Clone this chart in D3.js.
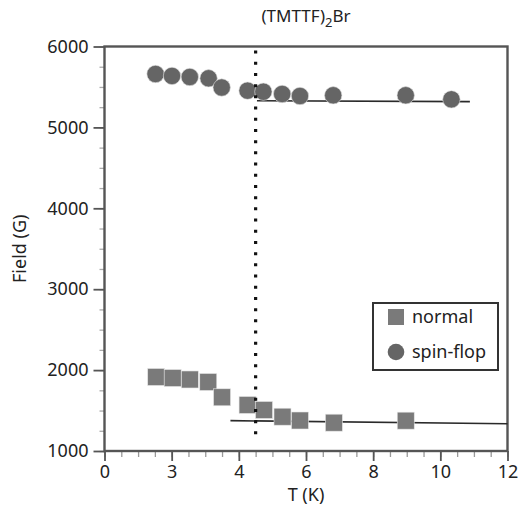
<!DOCTYPE html>
<html>
<head>
<meta charset="utf-8">
<script src="https://cdn.jsdelivr.net/npm/d3@7"></script>
<style>
  body { margin: 0; background: #fff; }
  svg { font-family: "Noto Sans", sans-serif; }
</style>
</head>
<body>
<div id="chart"></div>
<script>
// chart data
const normalT = [1.54, 2.03, 2.54, 3.09, 3.50, 4.26, 4.75, 5.30, 5.82, 6.83, 8.97];
const normalField = [1915, 1902, 1884, 1853, 1664, 1569, 1507, 1424, 1377, 1350, 1375];
const flopT = [1.52, 2.01, 2.54, 3.10, 3.49, 4.26, 4.73, 5.29, 5.82, 6.81, 8.97, 10.33];
const flopField = [5660, 5636, 5623, 5607, 5493, 5454, 5441, 5413, 5388, 5397, 5397, 5347];
const fitNormal = [[3.75, 1375], [12, 1337]];
const fitFlop = [[4.54, 5330], [10.88, 5318]];
const transitionT = 4.5;
const xTicks = [0, 2, 4, 6, 8, 10, 12];
const xTickLabels = ["0", "3", "4", "6", "8", "10", "12"];
const yTicks = [1000, 2000, 3000, 4000, 5000, 6000];
const legendLabels = ["normal", "spin-flop"];

// frame
const FRAME_WIDTH = 527;
const FRAME_HEIGHT = 508;
const MARGINS = {left: 104.5, right: 19.5, top: 46.5, bottom: 57};

const svg = d3.select("#chart")
  .append("svg")
    .attr("width", FRAME_WIDTH)
    .attr("height", FRAME_HEIGHT);

const X = d3.scaleLinear()
  .domain([0, 12])
  .range([MARGINS.left, FRAME_WIDTH - MARGINS.right]);

const Y = d3.scaleLinear()
  .domain([1000, 6000])
  .range([FRAME_HEIGHT - MARGINS.bottom, MARGINS.top]);

const AXIS_COLOR = "#555";

// minor ticks first so the major ones sit on top
svg.append("g")
  .attr("transform", `translate(0,${Y(1000)})`)
  .call(d3.axisBottom(X).tickValues(d3.range(0, 12.01, 0.5)).tickSize(6).tickFormat(""))
  .call(g => g.select(".domain").remove())
  .call(g => g.selectAll("line").attr("stroke", "#999").attr("stroke-width", 1.3));

svg.append("g")
  .attr("transform", `translate(${X(0)},0)`)
  .call(d3.axisLeft(Y).tickValues(d3.range(1000, 6001, 250)).tickSize(5).tickFormat(""))
  .call(g => g.select(".domain").remove())
  .call(g => g.selectAll("line").attr("stroke", "#aaa").attr("stroke-width", 1.3));

// major x axis
svg.append("g")
  .attr("transform", `translate(0,${Y(1000)})`)
  .call(d3.axisBottom(X).tickValues(xTicks).tickSize(10).tickPadding(4)
    .tickFormat((d, i) => xTickLabels[i]))
  .call(g => g.select(".domain").remove())
  .call(g => g.selectAll("line").attr("stroke", AXIS_COLOR).attr("stroke-width", 1.8))
  .call(g => g.selectAll("text").attr("font-size", 18).attr("fill", "#222")
    .attr("font-family", "Noto Sans"));

// major y axis
svg.append("g")
  .attr("transform", `translate(${X(0)},0)`)
  .call(d3.axisLeft(Y).tickValues(yTicks).tickSize(11).tickPadding(5).tickFormat(d3.format("d")))
  .call(g => g.select(".domain").remove())
  .call(g => g.selectAll("line").attr("stroke", AXIS_COLOR).attr("stroke-width", 1.8))
  .call(g => g.selectAll("text").attr("font-size", 18).attr("fill", "#222")
    .attr("font-family", "Noto Sans"));

// plot box
svg.append("rect")
  .attr("x", X(0))
  .attr("y", Y(6000))
  .attr("width", X(12) - X(0))
  .attr("height", Y(1000) - Y(6000))
  .attr("fill", "none")
  .attr("stroke", AXIS_COLOR)
  .attr("stroke-width", 2.4);

// fit lines
const line = d3.line().x(d => X(d[0])).y(d => Y(d[1]));
[fitNormal, fitFlop].forEach(f => {
  svg.append("path")
    .attr("d", line(f))
    .attr("fill", "none")
    .attr("stroke", "#2a2a2a")
    .attr("stroke-width", 1.6);
});

// points
const SQ = 17;
svg.selectAll(".sq")
  .data(normalT)
  .enter()
  .append("rect")
    .attr("class", "sq")
    .attr("x", (d) => X(d) - SQ / 2)
    .attr("y", (d, i) => Y(normalField[i]) - SQ / 2)
    .attr("width", SQ)
    .attr("height", SQ)
    .attr("fill", "#7a7a7a")
    .attr("stroke", "#e6e6e6")
    .attr("stroke-width", 0.6);

svg.selectAll(".dot")
  .data(flopT)
  .enter()
  .append("circle")
    .attr("class", "dot")
    .attr("cx", (d) => X(d))
    .attr("cy", (d, i) => Y(flopField[i]))
    .attr("r", 8.7)
    .attr("fill", "#656565")
    .attr("stroke", "#e0e0e0")
    .attr("stroke-width", 0.6);

// dotted transition line
svg.append("line")
  .attr("x1", X(transitionT))
  .attr("x2", X(transitionT))
  .attr("y1", Y(5950))
  .attr("y2", Y(1170))
  .attr("stroke", "#111")
  .attr("stroke-width", 3.2)
  .attr("stroke-dasharray", "3,8.2");

// legend
const legend = svg.append("g");
legend.append("rect")
  .attr("x", 373)
  .attr("y", 303)
  .attr("width", 125)
  .attr("height", 67)
  .attr("fill", "#fff")
  .attr("stroke", "#333")
  .attr("stroke-width", 2);
legend.append("rect")
  .attr("x", 388).attr("y", 309)
  .attr("width", 16).attr("height", 16)
  .attr("fill", "#7a7a7a");
legend.append("circle")
  .attr("cx", 396).attr("cy", 352)
  .attr("r", 8.3)
  .attr("fill", "#656565");
legend.selectAll(".lt")
  .data(legendLabels)
  .enter()
  .append("text")
    .attr("class", "lt")
    .attr("x", 412)
    .attr("y", (d, i) => 323 + i * 35)
    .attr("font-size", 18)
    .attr("fill", "#222")
    .text(d => d);

// titles
const title = svg.append("text")
  .attr("x", (X(0) + X(12)) / 2)
  .attr("y", 22)
  .attr("text-anchor", "middle")
  .attr("font-size", 17)
  .attr("fill", "#222");
title.append("tspan").text("(TMTTF)");
title.append("tspan").attr("dy", 5).attr("font-size", 13).text("2");
title.append("tspan").attr("dy", -5).text("Br");

svg.append("text")
  .attr("x", (X(0) + X(12)) / 2)
  .attr("y", 501)
  .attr("text-anchor", "middle")
  .attr("font-size", 18)
  .attr("fill", "#222")
  .text("T (K)");

svg.append("text")
  .attr("transform", `translate(26,${(Y(1000) + Y(6000)) / 2}) rotate(-90)`)
  .attr("text-anchor", "middle")
  .attr("font-size", 18)
  .attr("fill", "#222")
  .text("Field (G)");
</script>
</body>
</html>
